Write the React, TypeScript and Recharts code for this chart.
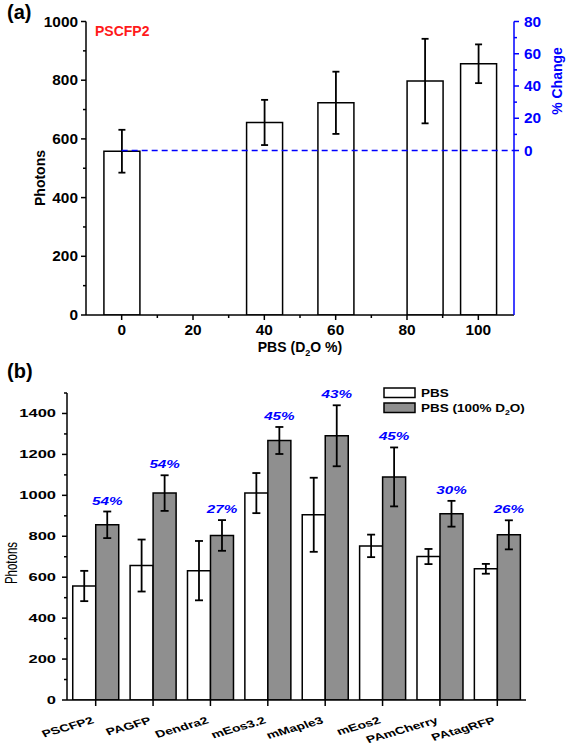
import React from 'react';
import { ComposedChart, Bar, XAxis, YAxis, ErrorBar, ReferenceLine, LabelList, Legend } from 'recharts';

const FONT = '"Liberation Sans", Arial, sans-serif';
const BLUE = '#0000ff';
const GRAY = '#8f8f8f';

// (a) PSCFP2 photons vs D2O fraction
const d2oFraction = [0, 40, 60, 85, 100];
const pscfp2Photons = [558, 656, 723, 797, 856];
const pscfp2Err = [73, 77, 106, 144, 66];
const aXTicks = [0, 10, 20, 30, 40, 50, 60, 70, 80, 90, 100];
const aYTicks = [0, 100, 200, 300, 400, 500, 600, 700, 800, 900, 1000];
const aPctTicks = [0, 10, 20, 30, 40, 50, 60, 70, 80];

// (b) all proteins, PBS vs PBS in 100% D2O
const proteins = ['PSCFP2', 'PAGFP', 'Dendra2', 'mEos3.2', 'mMaple3', 'mEos2', 'PAmCherry', 'PAtagRFP'];
const pbs = [557, 657, 632, 1011, 905, 753, 701, 641];
const pbsErr = [74, 127, 145, 98, 181, 55, 37, 24];
const pbsD2O = [856, 1011, 804, 1268, 1291, 1090, 910, 807];
const pbsD2OErr = [65, 87, 75, 66, 149, 144, 63, 71];
const gain = ['54%', '54%', '27%', '45%', '43%', '45%', '30%', '26%'];
const bYTicks = [0, 100, 200, 300, 400, 500, 600, 700, 800, 900, 1000, 1100, 1200, 1300, 1400, 1500];

const aData = d2oFraction.map((x, i) => ({ x, photons: pscfp2Photons[i], err: pscfp2Err[i] }));
const bData = proteins.map((name, i) => ({
  name,
  pbs: pbs[i],
  pbsErr: pbsErr[i],
  d2o: pbsD2O[i],
  d2oErr: pbsD2OErr[i],
  gain: gain[i],
}));

// writes "D2O" with a subscript 2
const chem = (s: string, size: number) => {
  const parts = s.split('D2O');
  if (parts.length < 2) return s;
  return (
    <>
      {parts[0]}D
      <tspan fontSize={size * 0.65} dy={size * 0.3}>2</tspan>
      <tspan dy={-size * 0.3}>O{parts[1]}</tspan>
    </>
  );
};

const txt = { fontFamily: FONT, fontWeight: 'bold' as const };

const XTickA = ({ x, y, payload }: any) => {
  const major = payload.value % 20 === 0;
  return (
    <g>
      <line x1={x} y1={y} x2={x} y2={y + (major ? 5 : 3)} stroke="#000" strokeWidth={1.5} />
      {major && (
        <text transform={`translate(${x},${y + 20}) scale(1.1,1)`} textAnchor="middle" fontSize={14} fill="#000" {...txt}>
          {payload.value}
        </text>
      )}
    </g>
  );
};

const YTickA = ({ x, y, payload }: any) => {
  const major = payload.value % 200 === 0;
  return (
    <g>
      <line x1={x} y1={y} x2={x - (major ? 5 : 3)} y2={y} stroke="#000" strokeWidth={1.5} />
      {major && (
        <text transform={`translate(${x - 8},${y + 5}) scale(1.1,1)`} textAnchor="end" fontSize={14} fill="#000" {...txt}>
          {payload.value}
        </text>
      )}
    </g>
  );
};

const PctTick = ({ x, y, payload }: any) => {
  const major = payload.value % 20 === 0;
  return (
    <g>
      <line x1={x} y1={y} x2={x + (major ? 5 : 3)} y2={y} stroke={BLUE} strokeWidth={1.5} />
      {major && (
        <text transform={`translate(${x + 10},${y + 5}) scale(1.1,1)`} textAnchor="start" fontSize={14} fill={BLUE} {...txt}>
          {payload.value}
        </text>
      )}
    </g>
  );
};

const XTickB = ({ x, y, payload }: any) => (
  <g>
    <line x1={x} y1={y} x2={x} y2={y + 6} stroke="#000" strokeWidth={1.5} />
    <text transform={`translate(${x - 1},${y + 23}) scale(1.4,1) rotate(-22)`} textAnchor="end" fontSize={10} fill="#000" {...txt}>
      {payload.value}
    </text>
  </g>
);

const YTickB = ({ x, y, payload }: any) => {
  const major = payload.value % 200 === 0;
  return (
    <g>
      <line x1={x} y1={y} x2={x - (major ? 5 : 3)} y2={y} stroke="#000" strokeWidth={1.5} />
      {major && (
        <text transform={`translate(${x - 11},${y + 4}) scale(1.5,1)`} textAnchor="end" fontSize={11} fill="#000" {...txt}>
          {payload.value}
        </text>
      )}
    </g>
  );
};

const GainLabel = ({ x, y, width, height, value, index }: any) => {
  const perUnit = height / pbsD2O[index];
  const top = y - pbsD2OErr[index] * perUnit - 7;
  return (
    <text
      transform={`translate(${x + width / 2},${top}) scale(1.45,1)`}
      textAnchor="middle"
      fontSize={10.5}
      fontStyle="italic"
      fill={BLUE}
      {...txt}
    >
      {value}
    </text>
  );
};

const BLegend = ({ payload }: any) => (
  <svg width={180} height={32}>
    {(payload || []).map((e: any, i: number) => (
      <g key={i}>
        <rect x={1} y={2 + i * 15} width={31} height={9.5} fill={e.color} stroke="#000" strokeWidth={1.5} />
        <text transform={`translate(38,${11.3 + i * 15}) scale(1.35,1)`} fontSize={10} fill="#000" {...txt}>
          {chem(e.value, 10)}
        </text>
      </g>
    ))}
  </svg>
);

export default function App() {
  return (
    <div style={{ position: 'absolute', left: 0, top: 0, width: 568, height: 750, background: '#fff' }}>
      <div style={{ position: 'absolute', left: 0, top: 0 }}>
        <ComposedChart width={568} height={360} data={aData} margin={{ top: 21.5, right: 14, bottom: 0, left: 46 }}>
          <XAxis
            type="number"
            dataKey="x"
            domain={[-10, 110]}
            allowDataOverflow
            ticks={aXTicks}
            interval={0}
            tickSize={0}
            tickMargin={0}
            tick={<XTickA />}
            height={45}
            axisLine={{ stroke: '#000', strokeWidth: 1.5 }}
          />
          <YAxis
            yAxisId="left"
            domain={[0, 1000]}
            allowDataOverflow
            ticks={aYTicks}
            interval={0}
            width={40}
            tickSize={0}
            tickMargin={0}
            tick={<YTickA />}
            axisLine={{ stroke: '#000', strokeWidth: 1.5 }}
          />
          <YAxis
            yAxisId="right"
            orientation="right"
            type="number"
            domain={[-102, 80]}
            allowDataOverflow
            ticks={aPctTicks}
            interval={0}
            width={40}
            tickSize={0}
            tickMargin={0}
            tick={<PctTick />}
            axisLine={{ stroke: BLUE, strokeWidth: 1.5 }}
          />
          <Bar yAxisId="left" dataKey="photons" barSize={36} fill="#fff" stroke="#000" strokeWidth={1.5} isAnimationActive={false}>
            <ErrorBar dataKey="err" width={3.5} stroke="#000" strokeWidth={1.8} />
          </Bar>
          <ReferenceLine
            yAxisId="right"
            segment={[{ x: 0, y: 0 }, { x: 110, y: 0 }]}
            stroke={BLUE}
            strokeWidth={1.5}
            strokeDasharray="6 4"
            ifOverflow="visible"
          />
          <text x={7} y={19} fontSize={20} fill="#000" {...txt}>(a)</text>
          <text x={95} y={36} fontSize={14} fill="#ff1a1a" {...txt}>PSCFP2</text>
          <text transform="translate(45,178) rotate(-90)" textAnchor="middle" fontSize={14} fill="#000" {...txt}>Photons</text>
          <text transform="translate(562,81) rotate(-90)" textAnchor="middle" fontSize={14} fill={BLUE} {...txt}>% Change</text>
          <text x={300} y={352} textAnchor="middle" fontSize={14} fill="#000" {...txt}>{chem('PBS (D2O %)', 14)}</text>
        </ComposedChart>
      </div>
      <div style={{ position: 'absolute', left: 0, top: 360 }}>
        <ComposedChart
          width={568}
          height={390}
          data={bData}
          margin={{ top: 33, right: 42, bottom: 0, left: 27 }}
          barCategoryGap="10%"
          barGap={0}
        >
          <XAxis
            dataKey="name"
            interval={0}
            tickSize={0}
            tickMargin={0}
            tick={<XTickB />}
            height={50}
            axisLine={{ stroke: '#000', strokeWidth: 1.5 }}
          />
          <YAxis
            domain={[0, 1500]}
            allowDataOverflow
            ticks={bYTicks}
            interval={0}
            width={40}
            tickSize={0}
            tickMargin={0}
            tick={<YTickB />}
            axisLine={{ stroke: '#000', strokeWidth: 1.5 }}
          />
          <Legend
            layout="vertical"
            align="center"
            verticalAlign="middle"
            content={<BLegend />}
            wrapperStyle={{ left: 383, top: 26, width: 180, height: 32 }}
          />
          <Bar dataKey="pbs" name="PBS" fill="#fff" stroke="#000" strokeWidth={1.5} isAnimationActive={false}>
            <ErrorBar dataKey="pbsErr" width={4} stroke="#000" strokeWidth={1.8} />
          </Bar>
          <Bar dataKey="d2o" name="PBS (100% D2O)" fill={GRAY} stroke="#000" strokeWidth={1.5} isAnimationActive={false}>
            <ErrorBar dataKey="d2oErr" width={4} stroke="#000" strokeWidth={1.8} />
            <LabelList dataKey="gain" content={<GainLabel />} />
          </Bar>
          <text x={7} y={18} fontSize={20} fill="#000" {...txt}>(b)</text>
          <text transform="translate(17,203) scale(1.5,1) rotate(-90)" textAnchor="middle" fontSize={11.5} fill="#000" fontFamily={FONT}>
            Photons
          </text>
        </ComposedChart>
      </div>
    </div>
  );
}
